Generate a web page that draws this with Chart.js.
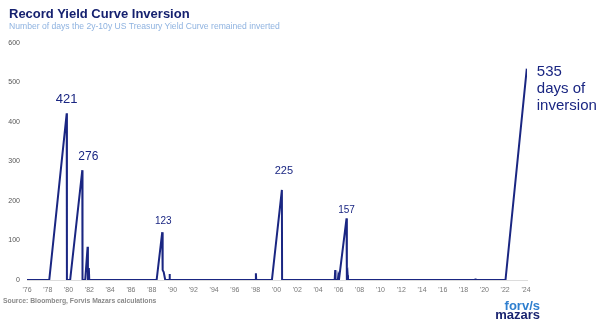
<!DOCTYPE html>
<html>
<head>
<meta charset="utf-8">
<script src="https://cdn.jsdelivr.net/npm/chart.js@4"></script>
<style>
  body { margin:0; background:#fff; width:602px; height:332px; overflow:hidden; font-family:"Liberation Sans", Arial, sans-serif; }
  #wrap { position:relative; width:602px; height:332px; }
  canvas { position:absolute; left:0; top:0; }
  .title { position:absolute; left:9px; top:6px; font-size:13px; font-weight:bold; color:#15216f; white-space:nowrap; }
  .subtitle { position:absolute; left:9px; top:21px; font-size:8.6px; color:#8fb3e0; white-space:nowrap; }
  .source { position:absolute; left:3px; top:297px; font-size:6.8px; font-weight:bold; color:#8a8a8a; white-space:nowrap; }
  .logo { position:absolute; left:490px; top:301px; font-size:13px; font-weight:bold; line-height:9px; text-align:right; width:50px; }
  .logo .a { color:#2f7fcf; }
  .logo .b { color:#1a2470; }
</style>
</head>
<body>
<div id="wrap">
  <canvas id="chart" width="602" height="332"></canvas>
  <div class="title">Record Yield Curve Inversion</div>
  <div class="subtitle">Number of days the 2y-10y US Treasury Yield Curve remained inverted</div>
  <div class="source">Source: Bloomberg, Forvis Mazars calculations</div>
  <div class="logo"><div class="a">forv/s</div><div class="b">mazars</div></div>
</div>
<script>

// consecutive days inverted (x = decimal year)
const years = [1976.0, 1978.14, 1979.82, 1979.84, 1980.15, 1981.32, 1981.34, 1981.60, 1981.83, 1981.86, 1981.95, 1981.99,
  1988.47, 1989.01, 1989.05, 1989.15, 1989.30, 1989.70, 1989.72, 1989.74,
  1998.0, 1998.02, 1998.05, 1999.56, 2000.52, 2000.54,
  2005.60, 2005.65, 2005.68, 2005.90, 2005.95, 2006.03, 2006.74, 2006.77, 2006.85, 2006.88,
  2019.12, 2019.14, 2019.16, 2022.03, 2024.08]
const days = [0, 0, 422, 0, 0, 278, 0, 0, 84, 0, 30, 0,
  0, 121, 25, 20, 0, 0, 15, 0,
  0, 17, 0, 0, 228, 0,
  0, 25, 0, 0, 12, 5, 156, 0, 12, 0,
  0, 4, 0, 0, 535]

const tickYears = [1976,1978,1980,1982,1984,1986,1988,1990,1992,1994,1996,1998,2000,2002,2004,2006,2008,2010,2012,2014,2016,2018,2020,2022,2024]
const tickLabels = ["'76","'78","'80","'82","'84","'86","'88","'90","'92","'94","'96","'98","'00","'02","'04","'06","'08","'10","'12","'14","'16","'18","'20","'22","'24"]
const yTicks = [0,100,200,300,400,500,600]

// peak call-outs
const peakText = ['421','276','123','225','157']
const peakYears = [1979.82, 1981.32, 1989.01, 2000.52, 2006.74]
const peakValues = [422, 278, 121, 228, 156]
const lastText = ['535','days of','inversion']

const navy = '#1a2682'

const points = years.map((y,i) => ({x:y, y:days[i]}))

// pixel nudges + font sizes for each call-out
const peakStyle = [
  {dx:0, dy:-14, size:13},
  {dx:6, dy:-14, size:12},
  {dx:1, dy:-11, size:10},
  {dx:2, dy:-19, size:11},
  {dx:0, dy:-8, size:10}
]

const calloutPlugin = {
  id:'callouts',
  afterDatasetsDraw(chart){
    const ctx = chart.ctx
    const xs = chart.scales.x, ys = chart.scales.y
    ctx.save()
    ctx.fillStyle = navy
    ctx.textAlign = 'center'
    ctx.textBaseline = 'middle'
    peakText.forEach((t,i) => {
      const st = peakStyle[i]
      ctx.font = st.size + 'px "Liberation Sans", Arial, sans-serif'
      ctx.fillText(t, xs.getPixelForValue(peakYears[i]) + st.dx, ys.getPixelForValue(peakValues[i]) + st.dy)
    })
    const lx = xs.getPixelForValue(years[years.length-1]) + 10
    const ly = ys.getPixelForValue(days[days.length-1]) + 3
    ctx.textAlign = 'left'
    ctx.font = '15px "Liberation Sans", Arial, sans-serif'
    lastText.forEach((t,i) => ctx.fillText(t, lx, ly + i*17))
    ctx.restore()
  }
}

const myChart = new Chart(document.getElementById('chart'), {
  type:'line',
  data:{
    datasets:[{
      data: points,
      borderColor: navy,
      borderWidth: 2,
      pointRadius: 0,
      tension: 0,
      fill: false
    }]
  },
  options:{
    responsive:false,
    animation:false,
    layout:{ padding:{top:43, right:75, bottom:0, left:0} },
    plugins:{ legend:{display:false}, tooltip:{enabled:false} },
    scales:{
      x:{
        type:'linear',
        min:1976, max:2024.1,
        afterBuildTicks(scale){ scale.ticks = tickYears.map(v => ({value:v})) },
        afterFit(scale){ scale.height = 52 },
        grid:{ display:false, drawTicks:false },
        border:{ display:true, color:'#dcdcdc', width:1 },
        ticks:{
          padding:6, maxRotation:0, autoSkip:false,
          color:'#777', font:{size:7, family:'"Liberation Sans", Arial, sans-serif'},
          callback:(v) => tickLabels[tickYears.indexOf(v)]
        }
      },
      y:{
        min:0, max:600,
        afterBuildTicks(scale){ scale.ticks = yTicks.map(v => ({value:v})) },
        afterFit(scale){ scale.width = 27 },
        grid:{ display:false, drawTicks:false },
        border:{ display:false },
        ticks:{ padding:7, color:'#555', font:{size:7, family:'"Liberation Sans", Arial, sans-serif'} }
      }
    }
  },
  plugins:[calloutPlugin]
})
</script>
</body>
</html>
